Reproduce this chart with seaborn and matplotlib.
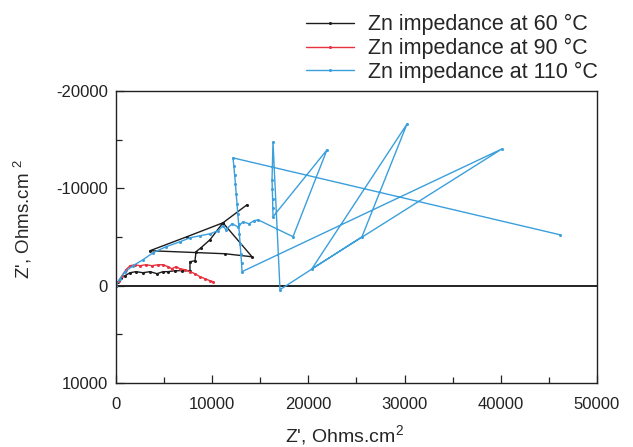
import matplotlib
matplotlib.use("Agg")
import matplotlib.pyplot as plt
from matplotlib.ticker import FixedLocator
import pandas as pd
import seaborn as sns

# Nyquist data for zinc, Z' (real) and Z'' (imaginary), Ohms.cm^2
zr_60 = [0, 210, 520, 940, 1460, 2080, 2810, 3530, 4260, 4890, 5410, 6130, 6860,
         7690, 7690, 8210, 8320, 8840, 9770, 11120, 14140, 11330, 3530, 7380,
         11120, 13620]
zi_60 = [0, -410, -820, -1030, -1330, -1440, -1330, -1440, -1230, -1440, -1440,
         -1540, -1540, -1540, -2460, -2560, -3490, -3900, -4720, -6460, -2970,
         -3280, -3590, -5030, -6460, -8310]

zr_90 = [0, 310, 620, 1040, 1460, 1980, 2490, 3120, 3740, 4370, 4890, 5410, 5820,
         6240, 6650, 7170, 7690, 8210, 8730, 9250, 9770, 10080]
zi_90 = [0, -510, -1030, -1640, -2050, -2150, -2050, -2150, -2050, -2150, -2150,
         -1950, -1740, -1950, -1740, -1640, -1440, -1230, -920, -720, -510, -410]

zr_110 = [0, 420, 940, 1770, 2810, 3850, 5200, 6650, 7690, 8730, 9770, 10600,
          11120, 11430, 12060, 12680, 13200, 13830, 14350, 14760,
          18400, 21930, 16320, 16300, 16280, 16250, 16220, 16320, 17050,
          25570, 30250, 20370, 40120, 13100, 13050, 12980, 12900, 12830, 12750,
          12660, 12580, 12500, 12420, 12330, 12250, 12160, 46150]
zi_110 = [0, -720, -1440, -2050, -2670, -3380, -4000, -4510, -4920, -5130, -5330,
          -5640, -6150, -5740, -6360, -6050, -6560, -6360, -6670, -6770,
          -5030, -13950, -7080, -8000, -8900, -9900, -10870, -14770, 410,
          -5030, -16610, -1740, -14050, -1440, -2300, -3300, -4300, -5300, -6300,
          -7400, -8400, -9400, -10400, -11400, -12300, -13130, -5230]

labels = ["Zn impedance at 60 °C", "Zn impedance at 90 °C", "Zn impedance at 110 °C"]
colors = ["#1c1c1c", "#e8323f", "#3a9fdc"]

x_ticks = [0, 10000, 20000, 30000, 40000, 50000]
y_ticks = [-20000, -10000, 0, 10000]

frames = []
for lab, zr, zi in zip(labels, [zr_60, zr_90, zr_110], [zi_60, zi_90, zi_110]):
    frames.append(pd.DataFrame({"zr": zr, "zi": zi, "series": lab}))
df = pd.concat(frames, ignore_index=True)

sns.set_style("ticks")
plt.rcParams["font.family"] = ["Liberation Sans", "DejaVu Sans"]
plt.rcParams["mathtext.fontset"] = "custom"
plt.rcParams["mathtext.rm"] = "Liberation Sans"
plt.rcParams["mathtext.default"] = "regular"
plt.rcParams["axes.unicode_minus"] = False

fig = plt.figure(figsize=(6.33, 4.47), dpi=100)
ax = fig.add_axes([0.18325, 0.14318, 0.75987, 0.65324])

sns.lineplot(data=df, x="zr", y="zi", hue="series", palette=colors,
             sort=False, estimator=None, marker="o", markersize=2.2,
             markeredgewidth=0, linewidth=1.0, ax=ax)

ax.axhline(0, color="#222222", linewidth=1.4, zorder=1)

ax.set_xlim(0, 50000)
ax.set_ylim(10000, -20000)
ax.xaxis.set_major_locator(FixedLocator(x_ticks))
ax.yaxis.set_major_locator(FixedLocator(y_ticks))
ax.xaxis.set_minor_locator(FixedLocator([5000, 15000, 25000, 35000, 45000]))
ax.yaxis.set_minor_locator(FixedLocator([-15000, -5000, 5000]))
ax.set_xticklabels([str(v) for v in x_ticks])
ax.set_yticklabels([str(v) for v in y_ticks])
ax.tick_params(which="both", direction="in", labelsize=12, colors="#222222")
ax.tick_params(which="major", length=6, width=0.9)
ax.tick_params(which="minor", length=4, width=0.9)
ax.tick_params(axis="x", which="major", pad=10)
ax.tick_params(axis="y", which="major", pad=6)
for s in ax.spines.values():
    s.set_linewidth(1.0)
    s.set_color("#222222")

ax.set_xlabel("Z', Ohms.cm$^2$", fontsize=14)
ax.set_ylabel("Z', Ohms.cm $^2$", fontsize=13.5)
ax.xaxis.set_label_coords(0.474, -0.136)
ax.yaxis.set_label_coords(-0.17, 0.56)

handles, labs = ax.get_legend_handles_labels()
ax.legend(handles, labs, loc="upper left", bbox_to_anchor=(0.484, 0.968),
          bbox_transform=fig.transFigure, frameon=False, fontsize=15.5,
          handlelength=2.2, handletextpad=0.65, labelspacing=0.12,
          borderpad=0, borderaxespad=0)

fig.savefig("out.png", dpi=100)
